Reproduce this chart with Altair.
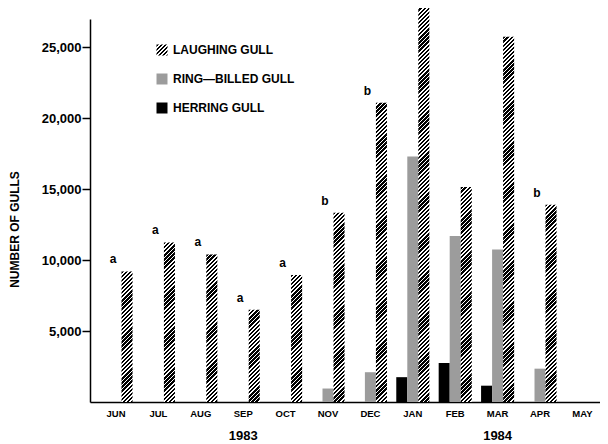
import math
import altair as alt

# ---------------- data ----------------
MONTHS = ["JUN", "JUL", "AUG", "SEP", "OCT", "NOV", "DEC", "JAN", "FEB", "MAR", "APR", "MAY"]
HERRING = [0, 0, 0, 0, 0, 0, 0, 1750, 2750, 1150, 0, 0]
RING_BILLED = [0, 0, 0, 0, 0, 950, 2100, 17300, 11700, 10750, 2350, 0]
LAUGHING = [9200, 11250, 10400, 6500, 8950, 13350, 21100, 27950, 15150, 25750, 13900, 0]
NOTES = ["a", "a", "a", "a", "a", "b", "b", "", "", "", "b", ""]
YEARS = {"SEP": "1983", "MAR": "1984"}
SERIES = ["HERRING GULL", "RING—BILLED GULL", "LAUGHING GULL"]       # order inside a month
LEGEND_ORDER = ["LAUGHING GULL", "RING—BILLED GULL", "HERRING GULL"]
Y_TICKS = [5000, 10000, 15000, 20000, 25000]

# ---------------- layout / style ----------------
PLOT_W, PLOT_H, YMAX = 510, 383, 27000
PAD_IN, PAD_OUT, ALIGN = 0.22, 0.124, 0.9
STEP = PLOT_W / (len(MONTHS) - PAD_IN + 2 * PAD_OUT)
BAR_W = STEP * (1 - PAD_IN) / len(SERIES)
PERIOD = 2.9   # distance between hatch lines (px)
INK = 0.58
FONT = "Liberation Sans"
STIPPLE = "#9c9c9c"


def hatch_stops(w, h, period=PERIOD, ink=INK):
    n = (w + h) / math.sqrt(2) / period
    stops, i = [], 0
    while i < n:
        a = round(i / n, 5)
        b = round(min((i + ink) / n, 1), 5)
        c = round(min((i + 1) / n, 1), 5)
        stops += [(a, "black"), (b, "black"), (b, "white"), (c, "white")]
        i += 1
    return stops


def hatch(w, h):
    k = (w + h) / (w * w + h * h)
    return {"gradient": "linear", "x1": 0, "y1": 0, "x2": k * w, "y2": k * h,
            "stops": [{"offset": o, "color": c} for o, c in hatch_stops(w, h)]}


def hatch_expr(w, h):
    k = (w + h) / (w * w + h * h)
    st = ",".join("{offset:%s,color:'%s'}" % (o, c) for o, c in hatch_stops(w, h))
    return "{gradient:'linear',x1:0,y1:0,x2:%s,y2:%s,stops:[%s]}" % (k * w, k * h, st)


bar_rows = []
for m, hv, rv, lv in zip(MONTHS, HERRING, RING_BILLED, LAUGHING):
    if hv:
        bar_rows.append({"month": m, "series": SERIES[0], "value": hv, "fill": "black"})
    if rv:
        bar_rows.append({"month": m, "series": SERIES[1], "value": rv, "fill": STIPPLE})
    if lv:
        bar_rows.append({"month": m, "series": SERIES[2], "value": lv,
                         "fill": hatch(BAR_W, lv / YMAX * PLOT_H)})

note_rows = [{"month": m, "series": SERIES[1], "value": lv, "note": n}
             for m, lv, n in zip(MONTHS, LAUGHING, NOTES) if n]

year_expr = " : ".join("datum.value == '%s' ? '%s'" % (k, v) for k, v in YEARS.items()) + " : ''"

x_scale = alt.Scale(domain=MONTHS, paddingInner=PAD_IN, paddingOuter=PAD_OUT, align=ALIGN)
off_scale = alt.Scale(domain=SERIES, paddingInner=0, paddingOuter=0)
y_scale = alt.Scale(domain=[0, YMAX], nice=False, zero=True)

y_axis = alt.Axis(values=Y_TICKS, format=",d", grid=False,
                  title="NUMBER OF GULLS", tickSize=8, tickWidth=1.5,
                  tickColor="black", domainColor="black", domainWidth=1.5,
                  labelFont=FONT, labelFontWeight="bold", labelFontSize=13,
                  labelColor="black", labelPadding=1,
                  titleFont=FONT, titleFontWeight="bold", titleFontSize=12,
                  titleColor="black", titleAngle=270, titleX=-76, titleY=210,
                  titleAlign="center", titleBaseline="middle")

bars = alt.Chart(alt.Data(values=bar_rows)).mark_bar().encode(
    x=alt.X("month:N", sort=MONTHS, scale=x_scale,
            axis=alt.Axis(title=None, labelAngle=0, ticks=False, grid=False,
                          domainColor="black", domainWidth=1.5,
                          labelFont=FONT, labelFontWeight="bold", labelFontSize=9.5,
                          labelColor="black", labelPadding=6, labelBaseline="top")),
    xOffset=alt.XOffset("series:N", sort=SERIES, scale=off_scale),
    y=alt.Y("value:Q", scale=y_scale, axis=y_axis),
    fill=alt.Fill("fill:N", scale=None, legend=None),
)

notes = alt.Chart(alt.Data(values=note_rows)).mark_text(
    dx=-3, dy=-8, baseline="alphabetic", font=FONT, fontWeight="bold", fontSize=12, color="black"
).encode(
    x=alt.X("month:N", sort=MONTHS, scale=x_scale,
            axis=alt.Axis(orient="bottom", title=None, labelAngle=0, ticks=False, domain=False,
                          grid=False, labelExpr=year_expr, labelFont=FONT,
                          labelFontWeight="bold", labelFontSize=13, labelColor="black",
                          labelPadding=27, labelBaseline="top")),
    xOffset=alt.XOffset("series:N", sort=SERIES, scale=off_scale),
    y=alt.Y("value:Q", scale=y_scale, axis=y_axis),
    text="note:N",
)

legend_layer = alt.Chart(alt.Data(values=[{"series": s} for s in LEGEND_ORDER])).mark_point(
    filled=True, opacity=0, shape="square"
).encode(
    color=alt.Color("series:N", sort=LEGEND_ORDER,
                    scale=alt.Scale(domain=LEGEND_ORDER,
                                    range=[alt.ExprRef(expr=hatch_expr(11, 11)), STIPPLE, "black"]),
                    legend=alt.Legend(title=None, orient="none", legendX=66, legendY=25,
                                      padding=0, rowPadding=17, labelOffset=5,
                                      symbolType="square", symbolSize=121,
                                      symbolStrokeWidth=0, symbolOpacity=1,
                                      labelFont=FONT, labelFontWeight="bold",
                                      labelFontSize=12, labelColor="black")),
)

chart = alt.layer(bars, notes, legend_layer).resolve_axis(x="independent").properties(
    width=PLOT_W, height=PLOT_H,
    autosize=alt.AutoSizeParams(type="none"),
    padding={"left": 82, "top": 11, "right": 0, "bottom": 42},
    background="white",
).configure_view(stroke=None)

chart.save("out.html", embed_options={"renderer": "svg", "actions": False})
